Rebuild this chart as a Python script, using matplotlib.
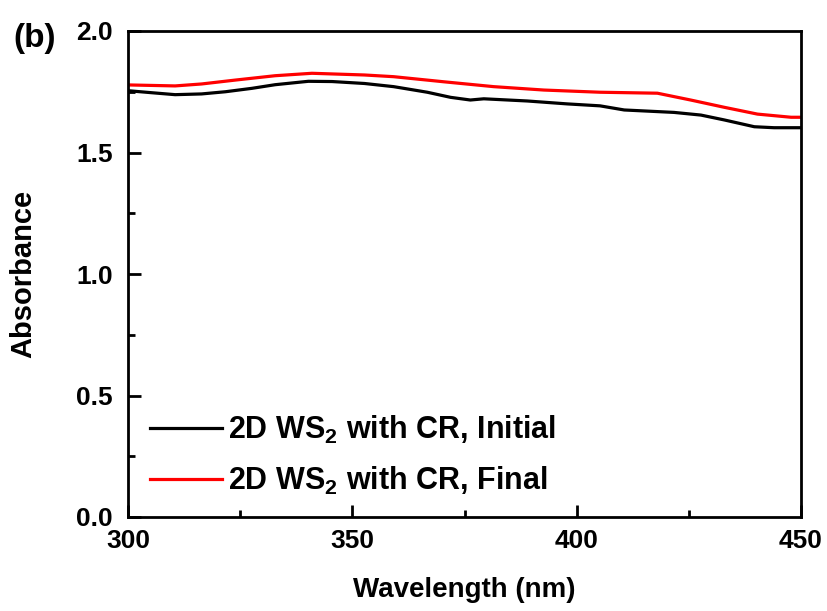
import matplotlib
matplotlib.use("Agg")
import matplotlib.pyplot as plt
from matplotlib.ticker import MultipleLocator, FormatStrFormatter

# Valeurs (longueur d'onde en nm, absorbance)
lam_initial = [300.2, 305.3, 310.5, 316.4, 321.7, 327.6, 332.8, 340.2, 345.5, 352.7,
               359.2, 366.7, 371.9, 376.3, 379.3, 389.0, 397.9, 405.2, 410.6, 421.7,
               427.7, 432.9, 439.6, 444.0, 449.8]
abs_initial = [1.754, 1.746, 1.738, 1.741, 1.750, 1.764, 1.779, 1.793, 1.792, 1.784,
               1.771, 1.748, 1.727, 1.716, 1.721, 1.712, 1.700, 1.692, 1.675, 1.665,
               1.654, 1.634, 1.606, 1.602, 1.602]

lam_final = [300.2, 310.5, 316.4, 323.9, 332.8, 341.0, 347.7, 352.7, 359.2, 370.4,
             381.5, 392.7, 405.2, 418.0, 425.4, 432.9, 440.3, 447.8, 449.8]
abs_final = [1.778, 1.774, 1.782, 1.798, 1.816, 1.826, 1.822, 1.819, 1.812, 1.791,
             1.771, 1.757, 1.748, 1.744, 1.716, 1.686, 1.658, 1.645, 1.645]

x_ticks = [300, 350, 400, 450]
y_ticks = [0.0, 0.5, 1.0, 1.5, 2.0]

plt.rcParams["font.family"] = ["Liberation Sans", "DejaVu Sans"]
plt.rcParams["font.weight"] = "bold"
plt.rcParams["mathtext.fontset"] = "custom"
plt.rcParams["mathtext.bf"] = "Liberation Sans:bold"
plt.rcParams["mathtext.rm"] = "Liberation Sans:bold"
plt.rcParams["mathtext.default"] = "bf"

fig = plt.figure(figsize=(8.28, 6.11), dpi=100)
ax = fig.add_axes([128 / 828, 94 / 611, 673 / 828, 486 / 611])

ax.plot(lam_initial, abs_initial, color="black", linewidth=2.3,
        label=r"2D WS$_{2}$ with CR, Initial")
ax.plot(lam_final, abs_final, color="#ff0000", linewidth=2.3,
        label=r"2D WS$_{2}$ with CR, Final")

ax.set_xlim(300, 450)
ax.set_ylim(0.0, 2.0)
ax.set_xticks(x_ticks)
ax.set_yticks(y_ticks)
ax.xaxis.set_minor_locator(MultipleLocator(25))
ax.yaxis.set_minor_locator(MultipleLocator(0.25))
ax.yaxis.set_major_formatter(FormatStrFormatter("%.1f"))
ax.tick_params(which="major", direction="in", length=9, width=2, labelsize=19)
ax.tick_params(axis="x", which="major", pad=9)
ax.tick_params(axis="y", which="major", pad=11)
ax.tick_params(which="minor", direction="in", length=5, width=2)
for s in ax.spines.values():
    s.set_linewidth(2)

ax.set_xlabel("Wavelength (nm)", fontsize=20, fontweight="bold", labelpad=17)
ax.set_ylabel("Absorbance", fontsize=21, fontweight="bold", labelpad=28)

ax.legend(loc="upper left", bbox_to_anchor=(150 / 828, 1 - 414 / 611),
          bbox_transform=fig.transFigure, frameon=False, borderpad=0, borderaxespad=0,
          fontsize=22, handlelength=2.35, handletextpad=0.2, labelspacing=0.62)

fig.text(13 / 828, 1 - 47 / 611, "(b)", fontsize=24, fontweight="bold", va="baseline")

fig.savefig("out.png", dpi=100)
